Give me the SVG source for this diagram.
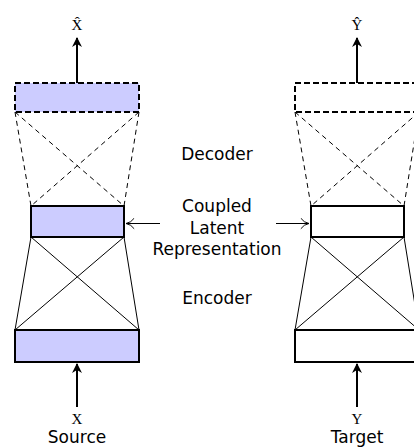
<svg xmlns="http://www.w3.org/2000/svg" width="414" height="447" viewBox="0 0 414 447">
  <style>
    .box { stroke: #000; stroke-width: 2; }
    .filled { fill: #ccccff; }
    .empty { fill: #fff; }
    .dashbox { stroke-dasharray: 6 3; }
    .edge { stroke: #000; stroke-width: 1; fill: none; }
    .dashed { stroke-dasharray: 5 4; }
    .arrow { stroke: #000; stroke-width: 2; fill: none; }
    .thin { stroke: #000; stroke-width: 1.2; fill: none; }
    .label { font-family: "DejaVu Sans", sans-serif; font-size: 17px; fill: #000; text-anchor: middle; }
    .math { font-family: "Liberation Serif", serif; font-size: 15px; fill: #000; text-anchor: middle; }
  </style>
  <defs>
    <marker id="solid" viewBox="0 0 10 10" refX="9" refY="5" markerWidth="5" markerHeight="5" orient="auto" markerUnits="strokeWidth">
      <path d="M0,0 L10,5 L0,10 L3,5 z" fill="#000"/>
    </marker>
    <marker id="open" viewBox="0 0 10 12" refX="9.5" refY="6" markerWidth="8" markerHeight="10" orient="auto" markerUnits="strokeWidth">
      <path d="M1,0.5 Q4,5 9.5,6 Q4,7 1,11.5" fill="none" stroke="#000" stroke-width="1"/>
    </marker>
  </defs>

  <!-- encoder / decoder wiring -->
  <g id="connectors">
    <!-- source side: decoder (dashed) -->
    <path class="edge dashed" d="M15,112 L31,206 M139,112 L124,206 M15,112 L124,206 M139,112 L31,206"/>
    <!-- source side: encoder -->
    <path class="edge" d="M31,237 L15,330 M124,237 L139,330 M31,237 L139,330 M124,237 L15,330"/>
    <!-- target side: decoder (dashed) -->
    <path class="edge dashed" d="M295,112 L311,206 M419,112 L404,206 M295,112 L404,206 M419,112 L311,206"/>
    <!-- target side: encoder -->
    <path class="edge" d="M311,237 L295,330 M404,237 L419,330 M311,237 L419,330 M404,237 L295,330"/>
    <!-- inputs and outputs -->
    <line class="arrow" x1="77" y1="83" x2="77" y2="38" marker-end="url(#solid)"/>
    <line class="arrow" x1="77" y1="407" x2="77" y2="364" marker-end="url(#solid)"/>
    <line class="arrow" x1="357" y1="83" x2="357" y2="38" marker-end="url(#solid)"/>
    <line class="arrow" x1="357" y1="407" x2="357" y2="364" marker-end="url(#solid)"/>
    <!-- latent pointers -->
    <line class="thin" x1="160" y1="223.5" x2="126" y2="223.5" marker-end="url(#open)"/>
    <line class="thin" x1="276" y1="223.5" x2="309" y2="223.5" marker-end="url(#open)"/>
  </g>

  <!-- source branch -->
  <g id="source-output">
    <rect class="box filled dashbox" x="15" y="83" width="124" height="29"/>
  </g>
  <g id="source-latent">
    <rect class="box filled" x="31" y="206" width="93" height="31"/>
  </g>
  <g id="source-input">
    <rect class="box filled" x="15" y="330" width="124" height="32"/>
  </g>

  <!-- target branch -->
  <g id="target-output">
    <rect class="box empty dashbox" x="295" y="83" width="124" height="29"/>
  </g>
  <g id="target-latent">
    <rect class="box empty" x="311" y="206" width="93" height="31"/>
  </g>
  <g id="target-input">
    <rect class="box empty" x="295" y="330" width="124" height="32"/>
  </g>

  <!-- labels -->
  <g id="labels">
    <text class="math" x="77" y="30">X̂</text>
    <text class="math" x="357" y="30">Ŷ</text>
    <text class="math" x="77" y="424">X</text>
    <text class="math" x="357" y="424">Y</text>
    <text class="label" x="77" y="443">Source</text>
    <text class="label" x="357" y="443">Target</text>
    <text class="label" x="217" y="160">Decoder</text>
    <text class="label" x="217" y="212">Coupled</text>
    <text class="label" x="217" y="233.5">Latent</text>
    <text class="label" x="217" y="255">Representation</text>
    <text class="label" x="217" y="304">Encoder</text>
  </g>
</svg>
